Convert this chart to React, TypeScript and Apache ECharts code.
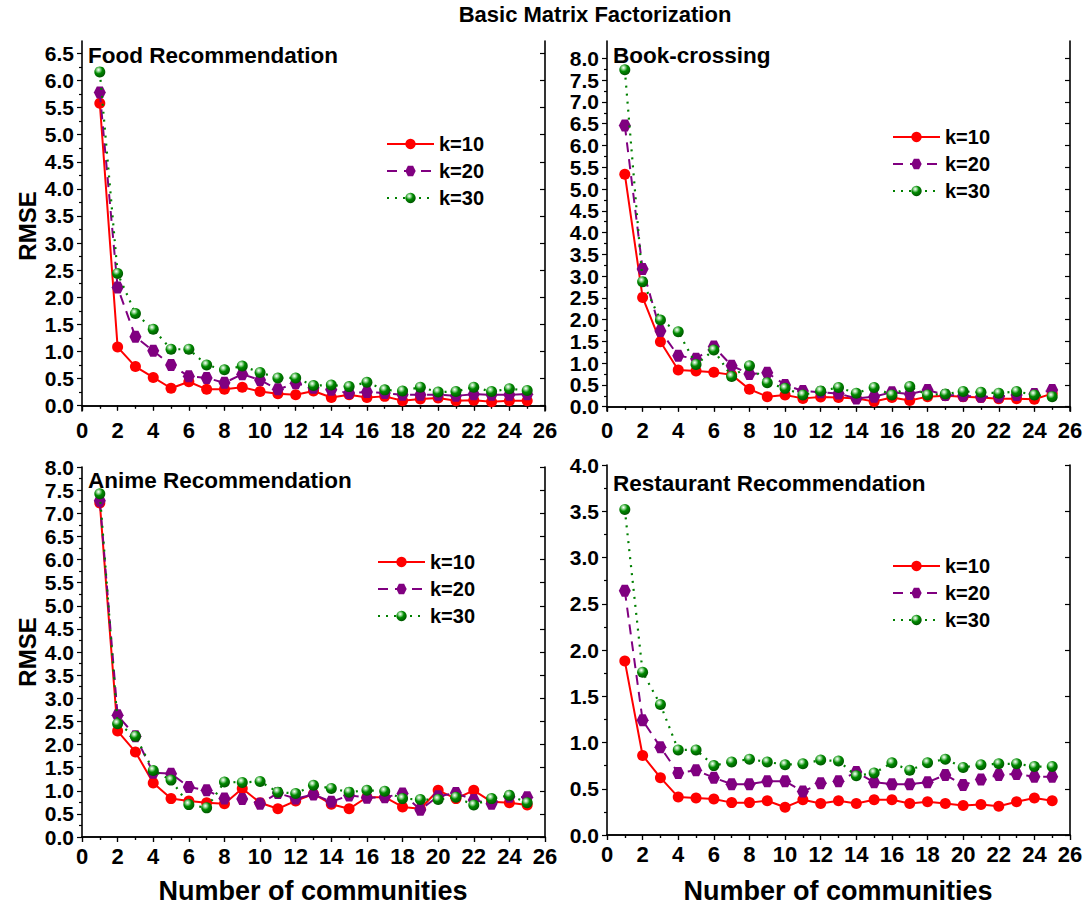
import React, { useEffect, useRef } from "react";
import * as echarts from "echarts";

const communities = [1, 2, 3, 4, 5, 6, 7, 8, 9, 10, 11, 12, 13, 14, 15, 16, 17, 18, 19, 20, 21, 22, 23, 24, 25];
const seriesNames = ["k=10", "k=20", "k=30"];
const xTicks = [0, 2, 4, 6, 8, 10, 12, 14, 16, 18, 20, 22, 24, 26];

const foodK10 = [5.58, 1.08, 0.72, 0.52, 0.32, 0.44, 0.3, 0.3, 0.34, 0.26, 0.22, 0.2, 0.27, 0.15, 0.2, 0.15, 0.17, 0.09, 0.12, 0.14, 0.09, 0.1, 0.07, 0.09, 0.09];
const foodK20 = [5.78, 2.18, 1.27, 1.01, 0.75, 0.54, 0.51, 0.42, 0.58, 0.47, 0.3, 0.41, 0.33, 0.29, 0.23, 0.25, 0.23, 0.2, 0.2, 0.2, 0.18, 0.21, 0.2, 0.2, 0.21];
const foodK30 = [6.16, 2.44, 1.7, 1.41, 1.04, 1.04, 0.75, 0.66, 0.73, 0.61, 0.51, 0.51, 0.37, 0.38, 0.35, 0.43, 0.29, 0.27, 0.34, 0.25, 0.26, 0.34, 0.26, 0.31, 0.28];

const bookK10 = [5.34, 2.51, 1.49, 0.84, 0.82, 0.79, 0.73, 0.4, 0.23, 0.27, 0.19, 0.22, 0.21, 0.19, 0.12, 0.21, 0.14, 0.23, 0.25, 0.23, 0.21, 0.18, 0.18, 0.17, 0.3];
const bookK20 = [6.46, 3.16, 1.74, 1.17, 1.1, 1.38, 0.94, 0.75, 0.78, 0.5, 0.36, 0.33, 0.3, 0.19, 0.23, 0.33, 0.29, 0.38, 0.27, 0.25, 0.23, 0.23, 0.27, 0.29, 0.38];
const bookK30 = [7.74, 2.87, 1.99, 1.72, 0.97, 1.3, 0.69, 0.94, 0.55, 0.42, 0.27, 0.36, 0.44, 0.31, 0.44, 0.27, 0.46, 0.27, 0.29, 0.35, 0.33, 0.31, 0.35, 0.27, 0.23];

const animeK10 = [7.22, 2.29, 1.84, 1.17, 0.83, 0.78, 0.74, 0.72, 1.05, 0.74, 0.61, 0.78, 0.93, 0.71, 0.61, 0.86, 0.86, 0.65, 0.61, 1.01, 0.83, 1.01, 0.76, 0.74, 0.69];
const animeK20 = [7.27, 2.63, 2.18, 1.39, 1.37, 1.08, 1.01, 0.83, 0.82, 0.72, 0.95, 0.83, 0.92, 0.76, 0.9, 0.85, 0.86, 0.94, 0.59, 0.88, 0.95, 0.8, 0.72, 0.87, 0.86];
const animeK30 = [7.42, 2.45, 2.18, 1.44, 1.23, 0.7, 0.63, 1.19, 1.18, 1.2, 0.97, 0.94, 1.12, 1.05, 0.97, 1.01, 0.99, 0.83, 0.81, 0.81, 0.86, 0.69, 0.83, 0.9, 0.74];

const restK10 = [1.88, 0.86, 0.62, 0.41, 0.4, 0.39, 0.35, 0.35, 0.37, 0.3, 0.38, 0.34, 0.37, 0.34, 0.38, 0.38, 0.34, 0.36, 0.34, 0.32, 0.33, 0.31, 0.36, 0.4, 0.37];
const restK20 = [2.64, 1.24, 0.95, 0.67, 0.7, 0.62, 0.55, 0.55, 0.58, 0.58, 0.47, 0.56, 0.58, 0.68, 0.57, 0.55, 0.55, 0.57, 0.65, 0.54, 0.6, 0.65, 0.66, 0.63, 0.63];
const restK30 = [3.52, 1.76, 1.41, 0.92, 0.92, 0.75, 0.79, 0.82, 0.79, 0.76, 0.77, 0.81, 0.8, 0.64, 0.67, 0.78, 0.7, 0.78, 0.82, 0.73, 0.76, 0.77, 0.77, 0.74, 0.74];

const yTicksFood = [0, 0.5, 1, 1.5, 2, 2.5, 3, 3.5, 4, 4.5, 5, 5.5, 6, 6.5];
const yTicksBook = [0, 0.5, 1, 1.5, 2, 2.5, 3, 3.5, 4, 4.5, 5, 5.5, 6, 6.5, 7, 7.5, 8];
const yTicksAnime = [0, 0.5, 1, 1.5, 2, 2.5, 3, 3.5, 4, 4.5, 5, 5.5, 6, 6.5, 7, 7.5, 8];
const yTicksRest = [0, 0.5, 1, 1.5, 2, 2.5, 3, 3.5, 4];

const panelTitles = ["Food Recommendation", "Book-crossing", "Anime Recommendation", "Restaurant Recommendation"];
const mainTitle = "Basic Matrix Factorization";
const yTitle = "RMSE";
const xTitle = "Number of communities";

const FONT = "'Liberation Sans', Arial, Helvetica, sans-serif";

export default function App() {
  const ref = useRef<HTMLDivElement>(null);

  useEffect(() => {
    if (!ref.current) return;
    const chart = echarts.init(ref.current, null, { renderer: "svg" });

    const panels = [
      { grid: { left: 82, top: 41, width: 463, height: 370 }, min: -0.1, max: 6.73, ticks: yTicksFood, data: [foodK10, foodK20, foodK30], legend: { left: 381, top: 129 } },
      { grid: { left: 607, top: 41, width: 463, height: 370 }, min: -0.1, max: 8.4, ticks: yTicksBook, data: [bookK10, bookK20, bookK30], legend: { left: 887, top: 122 } },
      { grid: { left: 82, top: 467, width: 463, height: 370 }, min: 0, max: 8, ticks: yTicksAnime, data: [animeK10, animeK20, animeK30], legend: { left: 372, top: 547 } },
      { grid: { left: 607, top: 465, width: 463, height: 370 }, min: 0, max: 4, ticks: yTicksRest, data: [restK10, restK20, restK30], legend: { left: 887, top: 551 } },
    ];

    const lineColor = "#000";
    const greenBall = new echarts.graphic.RadialGradient(0.38, 0.32, 0.7, [
      { offset: 0, color: "#ffffff" },
      { offset: 0.2, color: "#9fdc9f" },
      { offset: 0.5, color: "#008a00" },
      { offset: 1, color: "#005400" },
    ]);
    const styles = [
      { color: "#ff0000", symbol: "circle", symbolSize: 11, line: { width: 2, type: "solid" as any } },
      { color: "#800080", symbol: "path://M-1,0 L-0.5,-0.866 L0.5,-0.866 L1,0 L0.5,0.866 L-0.5,0.866 Z", symbolSize: 12, line: { width: 2, type: [10, 7] as any } },
      { color: "#008000", symbol: "circle", symbolSize: 11, line: { width: 2.2, type: [2, 6] as any } },
    ];

    const grids: any[] = [];
    const xAxes: any[] = [];
    const yAxes: any[] = [];
    const series: any[] = [];
    const legends: any[] = [];

    panels.forEach((p, g) => {
      grids.push({ ...p.grid, containLabel: false });
      xAxes.push({
        type: "value", gridIndex: g, min: 0, max: 26, interval: 2, position: "bottom",
        axisLine: { show: true, lineStyle: { color: lineColor, width: 1.6 } },
        axisTick: { show: true, inside: false, length: 5, lineStyle: { color: lineColor, width: 1.2 } },
        minorTick: { show: true, splitNumber: 2, length: 3, lineStyle: { color: lineColor, width: 1.2 } },
        splitLine: { show: false },
        axisLabel: { show: true, margin: 8, color: "#000", fontFamily: FONT, fontWeight: "bold", fontSize: 22, customValues: xTicks },
      });
      xAxes.push({
        type: "value", gridIndex: g, min: 0, max: 26, interval: 2, position: "top",
        axisLine: { show: true, lineStyle: { color: lineColor, width: 1.6 } },
        axisTick: { show: true, inside: true, length: 5, lineStyle: { color: lineColor, width: 1.2 } },
        minorTick: { show: true, splitNumber: 2, length: 3, lineStyle: { color: lineColor, width: 1.2 } },
        splitLine: { show: false },
        axisLabel: { show: false },
      });
      const minor: number[] = [];
      for (let i = 0; i < p.ticks.length - 1; i++) minor.push((p.ticks[i] + p.ticks[i + 1]) / 2);
      yAxes.push({
        type: "value", gridIndex: g, min: p.min, max: p.max, position: "left",
        axisLine: { show: true, lineStyle: { color: lineColor, width: 1.6 } },
        axisTick: { show: true, inside: false, length: 5, customValues: p.ticks, lineStyle: { color: lineColor, width: 1.2 } },
        splitLine: { show: false },
        axisLabel: {
          show: true, margin: 8, color: "#000", fontFamily: FONT, fontWeight: "bold", fontSize: 21,
          customValues: p.ticks, formatter: (v: number) => v.toFixed(1),
        },
      });
      yAxes.push({
        type: "value", gridIndex: g, min: p.min, max: p.max, position: "left",
        axisLine: { show: false },
        axisTick: { show: true, inside: false, length: 3, customValues: minor, lineStyle: { color: lineColor, width: 1.2 } },
        splitLine: { show: false },
        axisLabel: { show: false },
      });
      yAxes.push({
        type: "value", gridIndex: g, min: p.min, max: p.max, position: "right",
        axisLine: { show: true, lineStyle: { color: lineColor, width: 1.6 } },
        axisTick: { show: true, inside: true, length: 5, customValues: p.ticks, lineStyle: { color: lineColor, width: 1.2 } },
        splitLine: { show: false },
        axisLabel: { show: false },
      });
      p.data.forEach((vals, s) => {
        const st = styles[s];
        series.push({
          type: "line",
          name: seriesNames[s],
          xAxisIndex: 2 * g,
          yAxisIndex: 3 * g,
          data: communities.map((c, i) => [c, vals[i]]),
          symbol: st.symbol,
          symbolSize: st.symbolSize,
          showSymbol: true,
          lineStyle: { color: st.color, width: st.line.width, type: st.line.type },
          itemStyle: { color: s === 2 ? greenBall : st.color, borderWidth: 0 },
          z: 2 + s,
        });
      });
      legends.push({
        show: true, orient: "vertical", left: p.legend.left, top: p.legend.top,
        data: seriesNames, itemWidth: 47, itemHeight: 13, itemGap: 7,
        selectedMode: false,
        textStyle: { color: "#000", fontFamily: FONT, fontWeight: "bold", fontSize: 20 },
      });
    });

    const txt = (text: string, x: number, y: number, size: number, align = "left", rotation = 0) => ({
      type: "text", x, y, rotation, silent: true,
      style: {
        text, fill: "#000", font: `bold ${size}px ${FONT}`,
        align, verticalAlign: "middle", textAlign: align, textVerticalAlign: "middle",
      },
    });

    const graphics = [
      txt(mainTitle, 595, 14, 22, "center"),
      txt(panelTitles[0], 88, 55, 22.5),
      txt(panelTitles[1], 613, 55, 22.5),
      txt(panelTitles[2], 88, 480, 22.5),
      txt(panelTitles[3], 613, 483, 22.5),
      txt(yTitle, 27, 226, 24, "center", Math.PI / 2),
      txt(yTitle, 27, 652, 24, "center", Math.PI / 2),
      txt(xTitle, 313, 891, 27, "center"),
      txt(xTitle, 838, 891, 27, "center"),
    ];

    chart.setOption({
      animation: false,
      backgroundColor: "#fff",
      grid: grids,
      xAxis: xAxes,
      yAxis: yAxes,
      series,
      legend: legends,
      graphic: graphics,
    });

    return () => chart.dispose();
  }, []);

  return <div ref={ref} style={{ position: "absolute", left: 0, top: 0, width: 1090, height: 910 }} />;
}
